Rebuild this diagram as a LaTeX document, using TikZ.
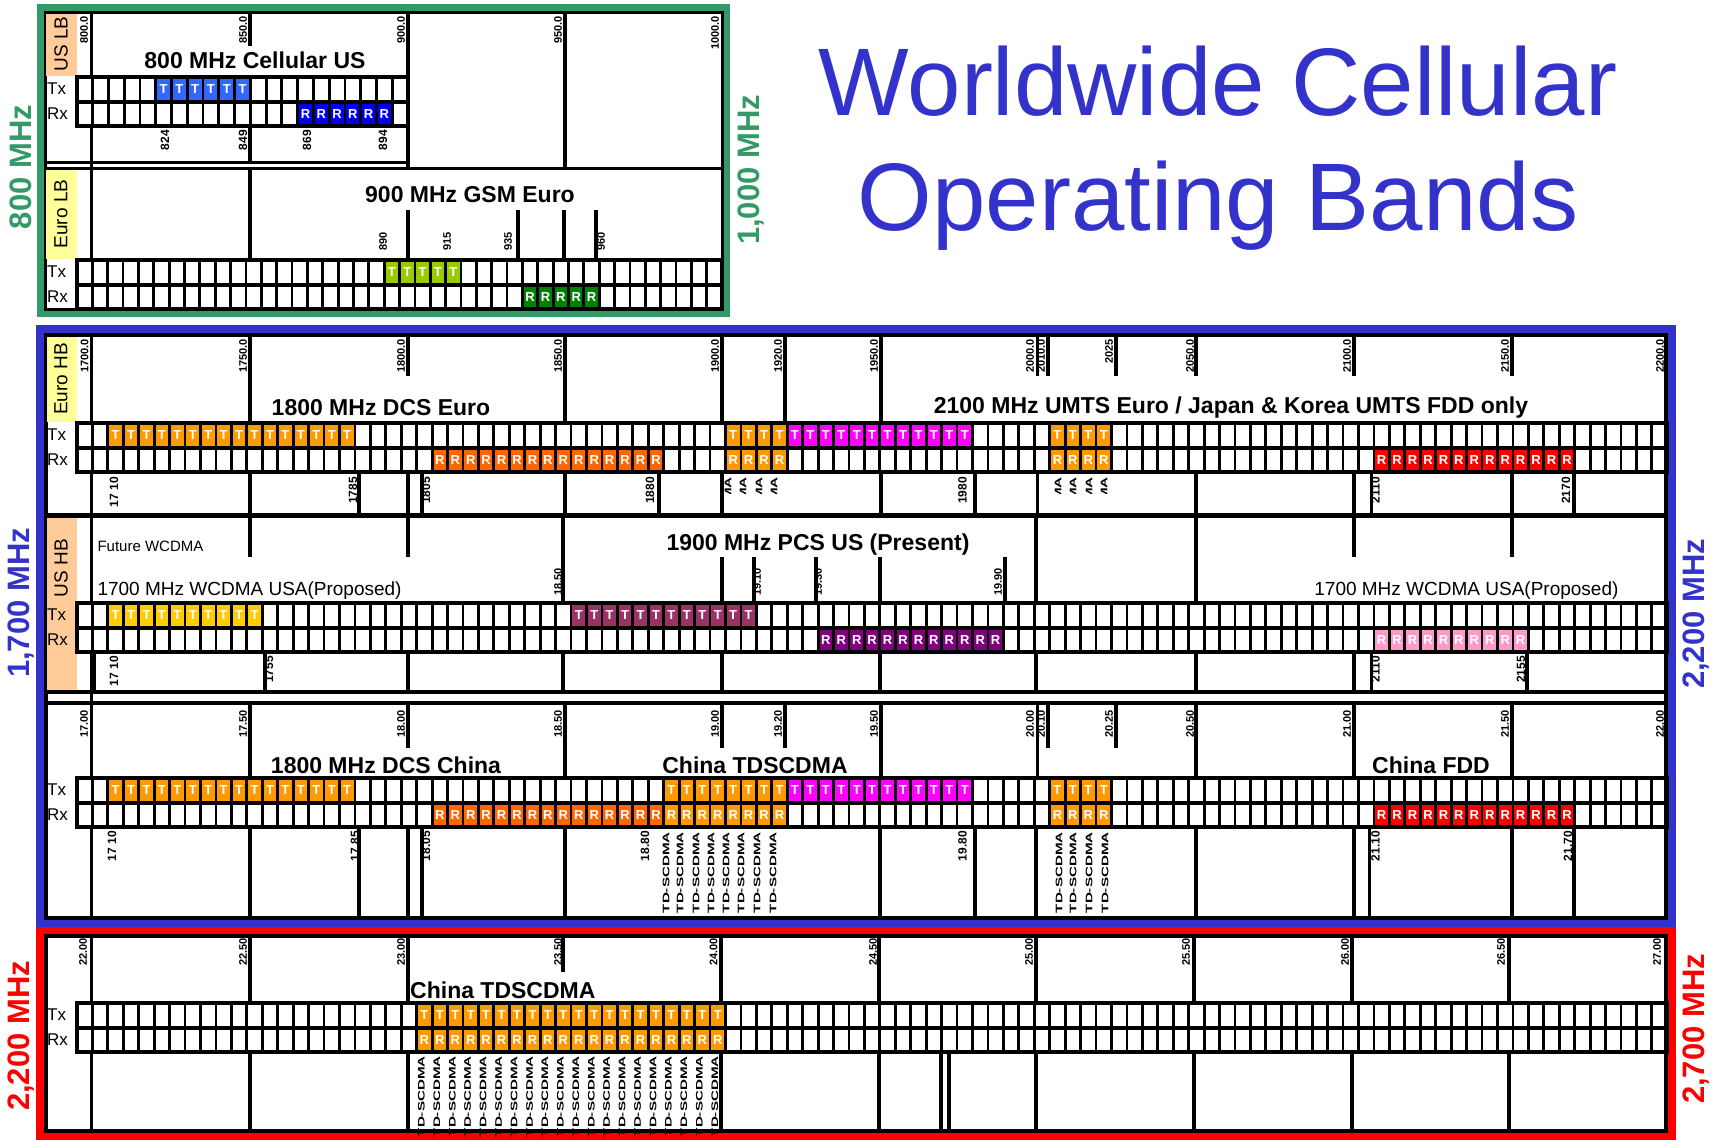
\documentclass[tikz,border=0pt]{standalone}
\usepackage{fontspec}
\setmainfont{Liberation Sans}
\usetikzlibrary{positioning}

\definecolor{lbgreen}{RGB}{51,153,102}
\definecolor{hbblue}{RGB}{51,51,204}
\definecolor{peach}{RGB}{255,204,153}
\definecolor{paleyellow}{RGB}{255,255,153}
\definecolor{cellblue}{RGB}{51,102,255}
\definecolor{deepblue}{RGB}{0,0,238}
\definecolor{gsmlime}{RGB}{153,204,0}
\definecolor{gsmgreen}{RGB}{0,128,0}
\definecolor{dcsorange}{RGB}{255,153,0}
\definecolor{dcsred}{RGB}{255,102,0}
\definecolor{umtsmag}{RGB}{255,0,255}
\definecolor{fddred}{RGB}{255,0,0}
\definecolor{awsyellow}{RGB}{255,204,0}
\definecolor{pcsmaroon}{RGB}{153,51,102}
\definecolor{pcspurple}{RGB}{128,0,128}
\definecolor{awspink}{RGB}{255,153,204}

\newcommand\fs[1]{\fontsize{#1}{#1}\selectfont}
% grid start and cell width, reset per panel
\def\gxa{77}
\def\gw{15.44}
% Tx/Rx row pair: #1 top of Tx row, #2 number of cells
\newcommand\gridrow[2]{%
  \foreach \c in {1,...,#2}
    \draw[cellsep] ({\gxa+\c*\gw},#1) -- ++(0,49);
  \draw[rowline] (\gxa,#1) rectangle ({\gxa+#2*\gw},#1+49);
  \draw[rowline] (\gxa,#1+25) -- ({\gxa+#2*\gw},#1+25);}
% coloured channel cells: #1 row top, #2 first, #3 last, #4 colour, #5 letter
\newcommand\band[5]{%
  \foreach \c in {#2,...,#3}
    \node[cell,fill=#4] (#5#1-\c) at ({\gxa+(\c+0.5)*\gw},#1+12.5) {#5};}

\begin{document}
\begin{tikzpicture}[x=1pt,y=-1pt,
  cellsep/.style={line width=2.8pt},
  rowline/.style={line width=3.6pt},
  tick/.style={line width=3.2pt},
  cell/.style={minimum width=\gw pt,minimum height=24pt,inner sep=0pt,text=white,font=\bfseries\fs{13}},
  toplab/.style={rotate=90,anchor=east,inner sep=0pt,font=\bfseries\fs{11}},
  botlab/.style={rotate=90,anchor=east,inner sep=0pt,font=\bfseries\fs{12}},
  tdlab/.style={rotate=90,anchor=east,inner sep=0pt,font=\bfseries\fs{9.5}},
  bandname/.style={font=\bfseries\fs{23}},
  boxlab/.style={rotate=90,font=\fs{19}},
  sidelab/.style={rotate=90,font=\bfseries\fs{31}},
  txrx/.style={anchor=west,inner sep=0pt,font=\fs{17}}]
\useasboundingbox (0,0) rectangle (1717,1140);

% title
\node[font=\fs{96},text=hbblue,anchor=base] (title1) at (1218,115) {Worldwide Cellular};
\node[font=\fs{96},text=hbblue,anchor=base] (title2) at (1218,230) {Operating Bands};

% ---------------- low bands ----------------
\draw[lbgreen,line width=7pt] (40,8) rectangle (726,313);
\draw[line width=3pt] (45,13) rectangle (722,309);
\node[sidelab,text=lbgreen] (lo800) at (21,167) {800 MHz};
\node[sidelab,text=lbgreen] (lo1000) at (751,170) {1,000 MHz};

% US LB
\def\gw{15.76}
\fill[peach] (46,14) rectangle (77,76);
\node[boxlab] (uslb) at (61,44) {US LB};
\node[bandname] (cellus) at (255,60) {800 MHz Cellular US};
\foreach \x/\a/\b in {91.5/13/77, 91.5/126/168, 250/13/46, 250/126/162, 408/13/168, 565/13/168}
  \draw[tick] (\x,\a) -- (\x,\b);
\draw[line width=3pt] (45,162) -- (408,162);
\draw[line width=3pt] (45,168) -- (722,168);
\foreach \x/\t [count=\n] in {84/800.0, 243/850.0, 401/900.0, 558/950.0, 715/1000.0}
  \node[toplab] (uslbtop\n) at (\x,16) {\t};
\foreach \x/\t [count=\n] in {165/824, 243/849, 307/869, 383/894}
  \node[botlab] (uslbbot\n) at (\x,130) {\t};
\band{77}{5}{10}{cellblue}{T}
\band{102}{14}{19}{deepblue}{R}
\gridrow{77}{21}
\node[txrx] (tx1) at (47,89) {Tx};
\node[txrx] (rx1) at (47,114) {Rx};

% Euro LB
\def\gw{15.36}
\fill[paleyellow] (46,170) rectangle (77,259);
\node[boxlab] (eulb) at (61,214) {Euro LB};
\node[bandname] (gsm) at (470,195) {900 MHz GSM Euro};
\foreach \x/\a in {91.5/168, 250/168, 408/210, 518/210, 564/210, 596/210}
  \draw[tick] (\x,\a) -- (\x,260);
\foreach \x/\t [count=\n] in {383/890, 447/915, 508/935, 601/960}
  \node[toplab] (eulbtop\n) at (\x,232) {\t};
\band{260}{20}{24}{gsmlime}{T}
\band{285}{29}{33}{gsmgreen}{R}
\gridrow{260}{42}
\node[txrx] (tx2) at (47,272) {Tx};
\node[txrx] (rx2) at (47,297) {Rx};

% ---------------- high bands ----------------
\draw[hbblue,line width=8pt] (40,329) rectangle (1672,923);
\draw[line width=3.5pt] (46,335) rectangle (1666,918);
\node[sidelab,text=hbblue] (hb1700) at (21,603) {1,700 MHz};
\node[sidelab,text=hbblue] (hb2200) at (1696,614) {2,200 MHz};
\def\gw{15.44}
\foreach \a/\b in {335/423, 472/603, 652/778, 827/918}
  \draw[tick] (91.5,\a) -- (91.5,\b);

% Euro HB
\fill[paleyellow] (47,337) rectangle (77,422);
\node[boxlab] (euhb) at (61,379) {Euro HB};
\draw[line width=5pt] (46,515) -- (1666,515);
\foreach \x/\b in {250/423, 408/376, 565/423, 722/423, 785/423, 881/423, 1037.5/376,
    1048/376, 1116/376, 1196/376, 1354/376, 1512/376}
  \draw[tick] (\x,336) -- (\x,\b);
\foreach \x/\t [count=\n] in {84.5/1700.0, 243/1750.0, 401/1800.0, 558/1850.0, 715/1900.0,
    778/1920.0, 874/1950.0, 1030/2000.0, 1041/2010.0, 1109/2025, 1190/2050.0,
    1347/2100.0, 1505/2150.0, 1660/2200.0}
  \node[toplab] (euhbtop\n) at (\x,339) {\t};
\node[bandname] (dcseu) at (381,408) {1800 MHz DCS Euro};
\node[bandname] (umts) at (1231,408) {2100 MHz UMTS Euro / Japan \& Korea UMTS FDD only};
\band{423}{2}{17}{dcsorange}{T}
\band{448}{23}{37}{dcsred}{R}
\band{423}{42}{45}{dcsorange}{T}
\band{448}{42}{45}{dcsorange}{R}
\band{423}{46}{57}{umtsmag}{T}
\band{423}{63}{66}{dcsorange}{T}
\band{448}{63}{66}{dcsorange}{R}
\band{448}{84}{96}{fddred}{R}
\gridrow{423}{103}
\node[txrx] (tx3) at (47,435) {Tx};
\node[txrx] (rx3) at (47,460) {Rx};
\foreach \x in {250, 359, 408, 422, 565, 659, 722, 881, 975, 1037.5, 1196, 1354, 1371.5, 1512, 1574}
  \draw[tick] (\x,472) -- (\x,513);
\foreach \x/\t [count=\n] in {114/17 10, 353/1785, 426/1805, 650/1880, 962.5/1980, 1375.5/2110, 1566/2170}
  \node[botlab] (euhbbot\n) at (\x,477) {\t};
\begin{scope}
  \clip (700,474) rectangle (1130,493);
  \foreach \x [count=\n] in {728, 743, 759, 774, 1058, 1073, 1089, 1104}
    \node[tdlab] (euclip\n) at (\x,477) {\scalebox{1.6}[1]{TD-SCDMA}};
\end{scope}

% US HB
\fill[peach] (47,518) rectangle (77,690);
\node[boxlab] (ushb) at (61,568) {US HB};
\foreach \x/\b in {250/557, 408/557, 563/603, 1036/603, 1196/603, 1354/557, 1512/557}
  \draw[tick] (\x,518) -- (\x,\b);
\foreach \x in {722, 754, 816, 880, 1005}
  \draw[tick] (\x,557) -- (\x,603);
\foreach \x/\t [count=\n] in {558/18.50, 757/19.10, 818/19.30, 998/19.90}
  \node[toplab] (ushbtop\n) at (\x,568) {\t};
\node[anchor=west,font=\fs{15}] (future) at (94,546) {Future WCDMA};
\node[anchor=west,font=\fs{19}] (awsleft) at (94,591) {1700 MHz WCDMA USA(Proposed)};
\node[anchor=east,font=\fs{19}] (awsright) at (1622,591) {1700 MHz WCDMA USA(Proposed)};
\node[bandname] (pcs) at (818,545) {1900 MHz PCS US (Present)};
\band{603}{2}{11}{awsyellow}{T}
\band{603}{32}{43}{pcsmaroon}{T}
\band{628}{48}{59}{pcspurple}{R}
\band{628}{84}{93}{awspink}{R}
\gridrow{603}{103}
\node[txrx] (tx4) at (47,615) {Tx};
\node[txrx] (rx4) at (47,640) {Rx};
\foreach \x in {94, 265, 408, 563, 722, 880, 1036, 1196, 1354, 1371.5, 1527}
  \draw[tick] (\x,652) -- (\x,690);
\foreach \x/\t [count=\n] in {114/17 10, 269/1755, 1375.5/2110, 1521/2155}
  \node[botlab] (ushbbot\n) at (\x,656) {\t};
\draw[line width=4pt] (46,692) -- (1666,692);
\draw[line width=4pt] (46,703) -- (1666,703);

% China
\foreach \x/\b in {250/778, 408/748, 565/778, 722/748, 785/748, 881/778, 1037.5/778,
    1048/748, 1116/748, 1196/778, 1354/778, 1512/778}
  \draw[tick] (\x,705) -- (\x,\b);
\foreach \x/\t [count=\n] in {84/17.00, 243/17.50, 401/18.00, 558/18.50, 715/19.00,
    778/19.20, 874/19.50, 1030/20.00, 1041/20.10, 1109/20.25, 1190/20.50,
    1347/21.00, 1505/21.50, 1660/22.00}
  \node[toplab] (cntop\n) at (\x,710) {\t};
\node[bandname] (dcscn) at (386,765) {1800 MHz DCS China};
\node[bandname] (tdcn) at (755,765) {China TDSCDMA};
\node[bandname] (fddcn) at (1431,765) {China FDD};
\band{778}{2}{17}{dcsorange}{T}
\band{803}{23}{37}{dcsred}{R}
\band{778}{38}{45}{dcsorange}{T}
\band{803}{38}{45}{dcsorange}{R}
\band{778}{46}{57}{umtsmag}{T}
\band{778}{63}{66}{dcsorange}{T}
\band{803}{63}{66}{dcsorange}{R}
\band{803}{84}{96}{fddred}{R}
\gridrow{778}{103}
\node[txrx] (tx5) at (47,790) {Tx};
\node[txrx] (rx5) at (47,815) {Rx};
\foreach \x in {250, 359, 408, 422, 565, 880, 975, 1036, 1196, 1354, 1369.5, 1512, 1574}
  \draw[tick] (\x,827) -- (\x,918);
\foreach \x/\t [count=\n] in {112/17 10, 355/17.85, 426/18.05, 645/18.80, 962.5/19.80, 1375.5/21.10, 1568/21.70}
  \node[botlab] (cnbot\n) at (\x,831) {\t};
\foreach \x [count=\n] in {666, 680, 696, 711, 726, 741, 757, 773, 1059, 1073, 1089, 1105}
  \node[tdlab] (cntd\n) at (\x,832) {\scalebox{1.6}[1]{TD-SCDMA}};

% ---------------- 2.2 -- 2.7 GHz ----------------
\draw[red,line width=8pt] (40,931) rectangle (1672,1136);
\draw[line width=3.5pt] (46,936) rectangle (1666,1131);
\node[sidelab,text=red] (rd2200) at (21,1036) {2,200 MHz};
\node[sidelab,text=red] (rd2700) at (1696,1029) {2,700 MHz};
\foreach \x in {91.5, 250, 408, 721, 879, 1036, 1194, 1352, 1509} {
  \draw[tick] (\x,936) -- (\x,1003);
  \draw[tick] (\x,1052) -- (\x,1131);}
\foreach \x in {941, 949}
  \draw[tick] (\x,1052) -- (\x,1131);
\draw[tick] (563,936) -- (563,972);
\foreach \x/\t [count=\n] in {83/22.00, 243/22.50, 401/23.00, 558/23.50, 713.5/24.00,
    873/24.50, 1029/25.00, 1186/25.50, 1345/26.00, 1501/26.50, 1657/27.00}
  \node[toplab] (rdtop\n) at (\x,938) {\t};
\node[bandname,anchor=west,inner sep=0pt] (tdrd) at (410,990) {China TDSCDMA};
\band{1003}{22}{41}{dcsorange}{T}
\band{1028}{22}{41}{dcsorange}{R}
\gridrow{1003}{103}
\node[txrx] (tx6) at (47,1015) {Tx};
\node[txrx] (rx6) at (47,1040) {Rx};
\foreach \c in {22,...,41}
  \node[tdlab] (rdtd\c) at ({\gxa+(\c+0.5)*\gw-3},1056) {\scalebox{1.6}[1]{TD-SCDMA}};
\end{tikzpicture}
\end{document}
